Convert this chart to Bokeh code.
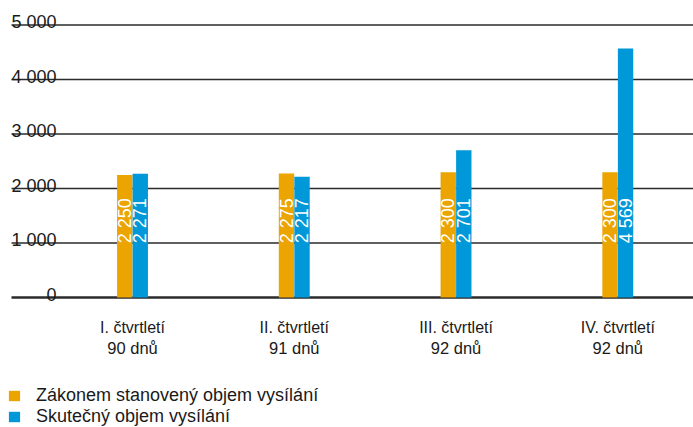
import math
from bokeh.plotting import figure
from bokeh.models import Range1d, ColumnDataSource, Legend, LegendItem
from bokeh.core.properties import value
from bokeh.embed import file_html
from bokeh.resources import INLINE

quarters = ["I. čtvrtletí", "II. čtvrtletí", "III. čtvrtletí", "IV. čtvrtletí"]
days = [90, 91, 92, 92]
statutory = [2250, 2275, 2300, 2300]
actual = [2271, 2217, 2701, 4569]
y_ticks = [0, 1000, 2000, 3000, 4000, 5000]
series_names = ["Zákonem stanovený objem vysílání", "Skutečný objem vysílání"]

ORANGE = "#EBA400"
BLUE = "#0098D8"
FONT_NAME = "Liberation Sans"
FONT = value(FONT_NAME)


def fmt(v):
    return f"{v:,}".replace(",", " ")


idx = list(range(len(quarters)))
off = 0.048
bw = 0.095

p = figure(width=693, height=427,
           x_range=Range1d(-0.816, 3.468), y_range=Range1d(-2385, 5450),
           x_axis_type=None, y_axis_type=None,
           toolbar_location=None, output_backend="svg",
           min_border=0, min_border_left=0, min_border_right=0,
           min_border_top=0, min_border_bottom=0)
p.outline_line_color = None
p.grid.visible = False

# gridlines
grid_src = ColumnDataSource(dict(
    x0=[-0.748] * len(y_ticks), x1=[3.468] * len(y_ticks), y=y_ticks,
    w=[2.5 if t == 0 else 1.4 for t in y_ticks]))
p.segment(x0="x0", y0="y", x1="x1", y1="y", source=grid_src,
          line_color="#2b2b2b", line_width="w")

# y labels
p.text(x=[-0.470] * len(y_ticks), y=y_ticks, text=[fmt(t) for t in y_ticks],
       text_align="right", text_baseline="alphabetic", y_offset=-3,
       text_font=FONT, text_font_size="18px", text_color="#1a1a1a")

# bars
src = ColumnDataSource(dict(
    xo=[i - off for i in idx], xb=[i + off for i in idx],
    s=statutory, a=actual,
    ls=[fmt(v) for v in statutory], la=[fmt(v) for v in actual]))
r1 = p.vbar(x="xo", top="s", bottom=0, width=bw, source=src,
            fill_color=ORANGE, line_color=None)
r2 = p.vbar(x="xb", top="a", bottom=0, width=bw, source=src,
            fill_color=BLUE, line_color=None)

# value labels inside bars (rotated)
LABEL_Y = 995
p.text(x="xo", y=LABEL_Y, text="ls", source=src, angle=math.pi / 2,
       text_align="left", text_baseline="middle",
       text_font=FONT, text_font_size="18px", text_color="white")
p.text(x="xb", y=LABEL_Y, text="la", source=src, angle=math.pi / 2,
       text_align="left", text_baseline="middle",
       text_font=FONT, text_font_size="18px", text_color="white")

# category labels
p.text(x=idx, y=[-550] * len(idx), text=quarters,
       text_align="center", text_baseline="alphabetic",
       text_font=FONT, text_font_size="16px", text_color="#1a1a1a")
p.text(x=idx, y=[-920] * len(idx), text=[f"{d} dnů" for d in days],
       text_align="center", text_baseline="alphabetic",
       text_font=FONT, text_font_size="16.5px", text_color="#1a1a1a")

legend = Legend(items=[LegendItem(label=series_names[0], renderers=[r1]),
                       LegendItem(label=series_names[1], renderers=[r2])],
                location=(7, 0), orientation="vertical",
                glyph_width=14, glyph_height=13, label_standoff=15,
                label_text_font=FONT_NAME, label_text_font_size="18px",
                label_text_color="#1a1a1a", label_height=20,
                spacing=0, padding=0, margin=0,
                border_line_color=None, background_fill_alpha=0)
p.add_layout(legend)

open("out.html", "w").write(file_html(p, INLINE))
